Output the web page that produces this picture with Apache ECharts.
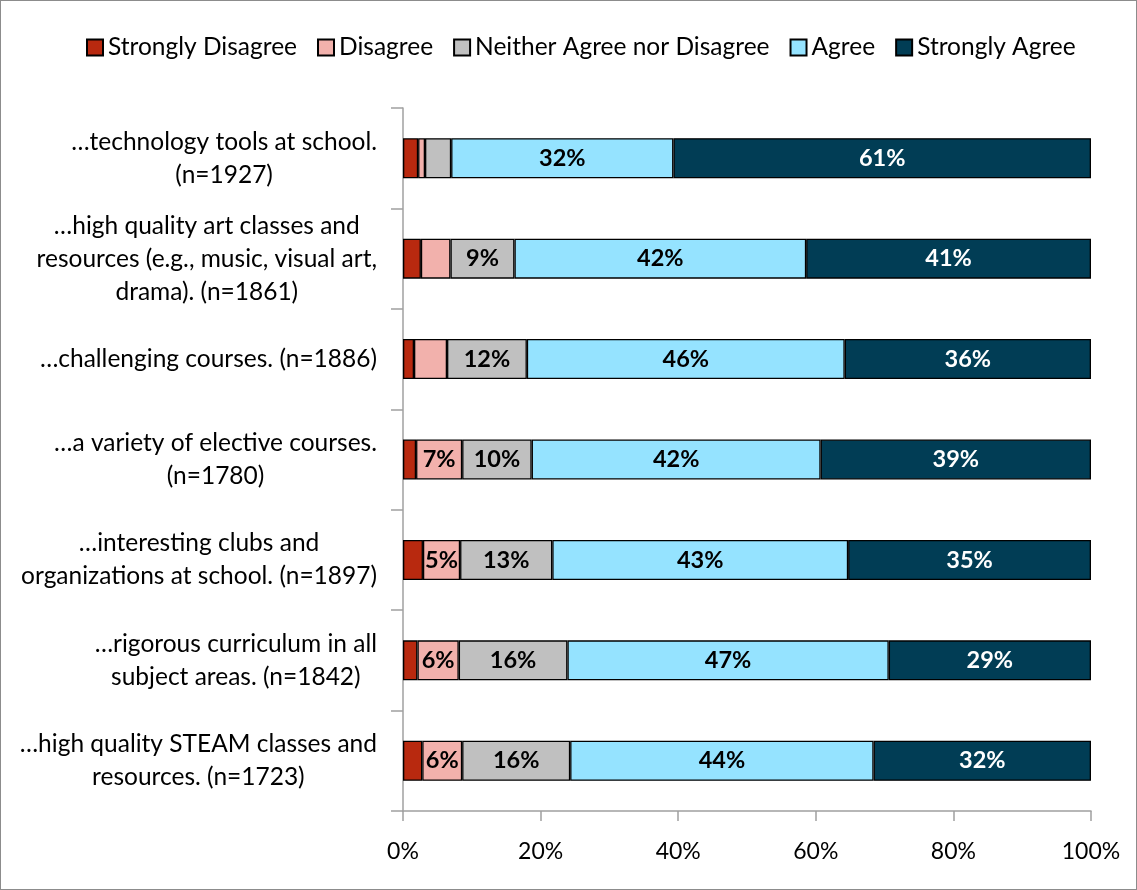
<!DOCTYPE html>
<html>
<head>
<meta charset="utf-8">
<script src="https://cdn.jsdelivr.net/npm/echarts@6/dist/echarts.min.js"></script>
<style>
html,body{margin:0;padding:0;background:#fff;}
#c{width:1137px;height:890px;box-sizing:border-box;border:1px solid #8c8c8c;}
</style>
</head>
<body>
<div id="c"></div>
<script>
const categories = [
  "…technology tools at school.\n(n=1927)",
  "…high quality art classes and\nresources (e.g., music, visual art,\ndrama). (n=1861)",
  "…challenging courses. (n=1886)",
  "…a variety of elective courses.\n(n=1780)",
  "…interesting clubs and\norganizations at school. (n=1897)",
  "…rigorous curriculum in all\nsubject areas. (n=1842)",
  "…high quality STEAM classes and\nresources. (n=1723)"
];
const seriesNames = ["Strongly Disagree", "Disagree", "Neither Agree nor Disagree", "Agree", "Strongly Agree"];
const stronglyDisagree = [2.2, 2.6, 1.6, 1.9, 2.9, 2.1, 2.8];
const disagree         = [1.0, 4.3, 4.8, 6.7, 5.4, 6.0, 5.8];
const neither          = [3.8, 9.3, 11.6, 10.1, 13.4, 15.8, 15.7];
const agree            = [32.3, 42.4, 46.2, 42.0, 43.0, 46.7, 44.1];
const stronglyAgree    = [60.7, 41.4, 35.8, 39.3, 35.3, 29.4, 31.6];
const xTicks = [0, 20, 40, 60, 80, 100];

const colors = ['#B8290F', '#F2B1AC', '#C0C0C0', '#95E3FF', '#013D55'];
const labelColors = ['#000', '#000', '#000', '#000', '#fff'];
const allData = [stronglyDisagree, disagree, neither, agree, stronglyAgree];
const FONT = 'Lato, "Open Sans", sans-serif';

const chart = echarts.init(document.getElementById('c'));
chart.setOption({
  animation: false,
  textStyle: { fontFamily: FONT },
  legend: {
    top: 29,
    left: 80,
    itemWidth: 16,
    itemHeight: 16,
    itemGap: 20,
    icon: 'rect',
    textStyle: { fontSize: 24.5, color: '#000', fontFamily: FONT },
    data: seriesNames
  },
  grid: { left: 402, right: 45, top: 107, bottom: 78 },
  xAxis: {
    type: 'value',
    min: xTicks[0],
    max: xTicks[xTicks.length - 1],
    interval: 20,
    axisLine: { show: true, lineStyle: { color: '#A0A0A0', width: 1.5 } },
    axisTick: { show: true, length: 10, lineStyle: { color: '#A0A0A0', width: 1.5 } },
    splitLine: { show: false },
    axisLabel: { formatter: '{value}%', fontSize: 23, color: '#000', margin: 29, fontFamily: FONT }
  },
  yAxis: {
    type: 'category',
    inverse: true,
    data: categories,
    axisLine: { show: true, lineStyle: { color: '#A0A0A0', width: 1.5 } },
    axisTick: { show: true, length: 12, lineStyle: { color: '#A0A0A0', width: 1.5 } },
    axisLabel: {
      margin: 26,
      color: '#000',
      fontSize: 24.5,
      lineHeight: 33,
      fontFamily: FONT,
      formatter: function (v) {
        return v.split('\n').map(function (l) { return '{c|' + l + '}'; }).join('\n');
      },
      rich: { c: { align: 'center', fontSize: 24.5, lineHeight: 33, color: '#000', fontFamily: FONT } }
    }
  },
  series: seriesNames.map(function (name, i) {
    return {
      name: name,
      type: 'bar',
      stack: 'total',
      barWidth: 40,
      data: allData[i],
      itemStyle: { color: colors[i], borderColor: '#000', borderWidth: 1.3 },
      label: {
        show: true,
        position: 'inside',
        fontSize: 23.5,
        fontWeight: 'bold',
        color: labelColors[i],
        fontFamily: FONT,
        formatter: function (p) { return p.value >= 5 ? Math.round(p.value) + '%' : ''; }
      }
    };
  })
});
</script>
</body>
</html>
